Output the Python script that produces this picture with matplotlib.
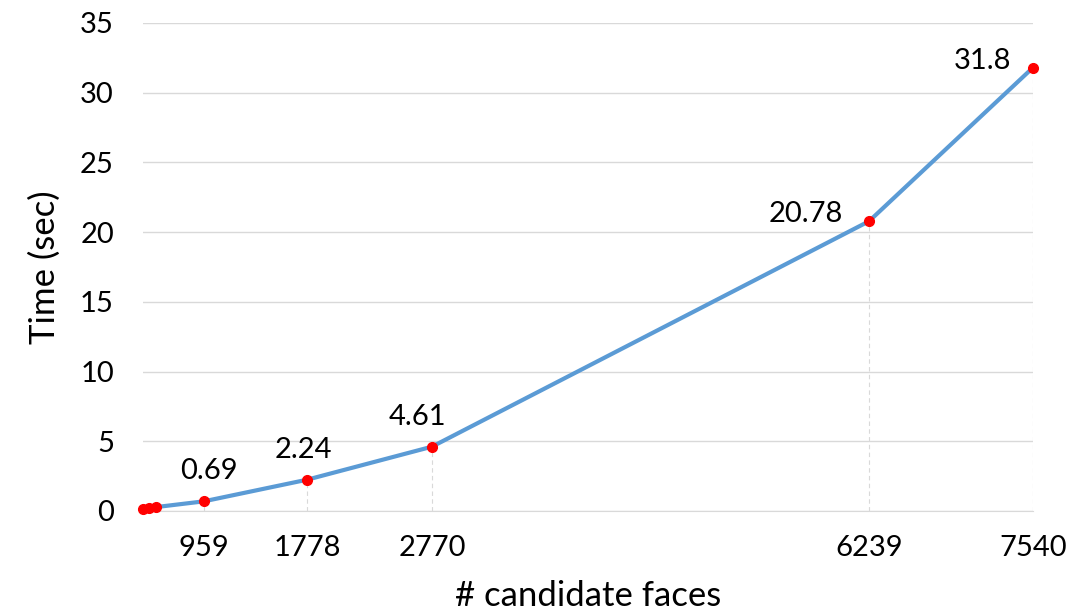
import matplotlib.pyplot as plt

# candidate faces vs. time
faces = [478, 525, 581, 959, 1778, 2770, 6239, 7540]
times = [0.15, 0.2, 0.28, 0.69, 2.24, 4.61, 20.78, 31.8]

tick_faces = [959, 1778, 2770, 6239, 7540]
label_idx = [3, 4, 5, 6, 7]

plt.rcParams['font.family'] = ['Lato', 'DejaVu Sans']

fig = plt.figure(figsize=(10.76, 6.11), dpi=100)
ax = fig.add_axes([0.133, 0.1637, 0.827, 0.7987])

# drop lines
for i in label_idx:
    ax.plot([faces[i], faces[i]], [0, times[i]], color='#d9d9d9', lw=0.8,
            ls=(0, (4, 3)), zorder=1)

ax.plot(faces, times, color='#5b9bd5', lw=3, zorder=2)
ax.plot(faces, times, 'o', color='red', ms=7, zorder=3, clip_on=False)

# data labels (offsets in pixels)
px = 72 / 100
above = {3: 5, 4: -4, 5: -14}
for i, dx in above.items():
    ax.annotate(str(times[i]), (faces[i], times[i]), xytext=(dx * px, 22 * px),
                textcoords='offset points', ha='center', va='baseline', fontsize=21)
for i, gap in {6: 26, 7: 22}.items():
    ax.annotate(str(times[i]), (faces[i], times[i]), xytext=(-gap * px, 7 * px),
                textcoords='offset points', ha='right', va='center', fontsize=21)

ax.set_xlim(faces[0], 7540)
ax.set_ylim(0, 35)
ax.set_yticks(range(0, 36, 5))
ax.set_xticks(tick_faces)
ax.set_xticklabels([str(v) for v in tick_faces])
ax.grid(axis='y', color='#d9d9d9', lw=1)
ax.set_axisbelow(True)
for s in ['top', 'right', 'left']:
    ax.spines[s].set_visible(False)
ax.spines['bottom'].set_color('#d9d9d9')
ax.tick_params(length=0, labelsize=21)
ax.tick_params(axis='x', pad=17)
ax.tick_params(axis='y', pad=21)

ax.set_xlabel('# candidate faces', fontsize=25, labelpad=14)
ax.set_ylabel('Time (sec)', fontsize=25, labelpad=14)

plt.savefig('out.png', dpi=100)
